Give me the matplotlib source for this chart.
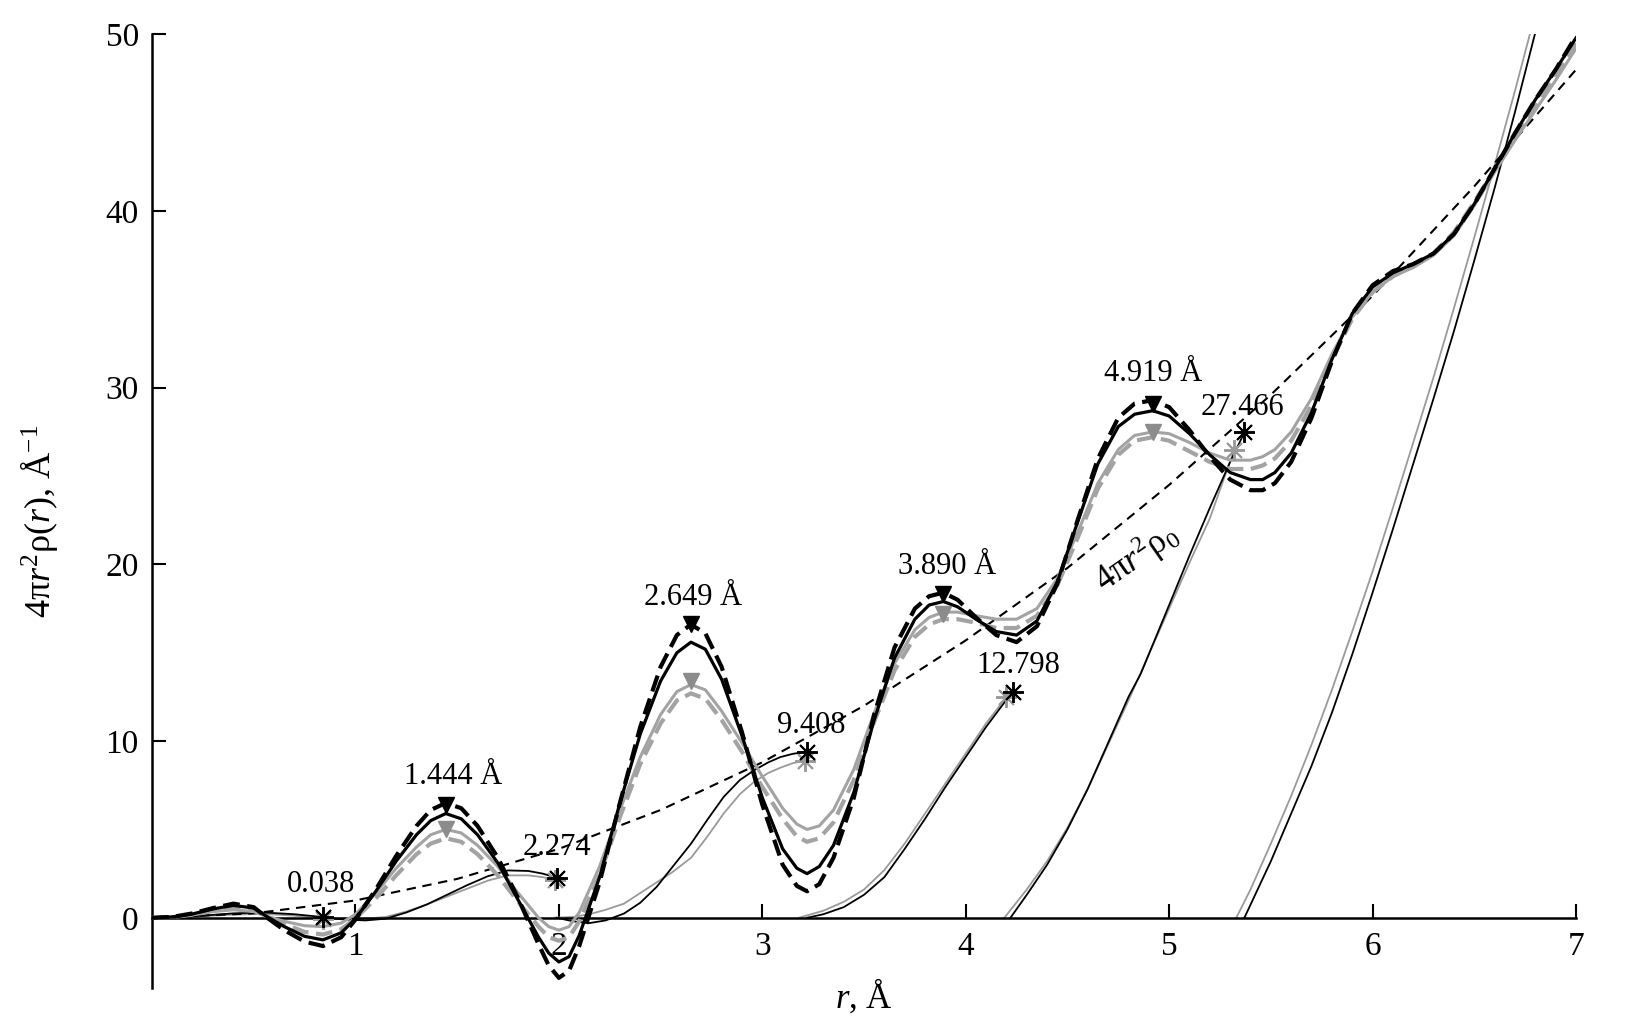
import matplotlib
matplotlib.use("Agg")
import matplotlib.pyplot as plt

plt.rcParams['font.family'] = ['Liberation Serif', 'DejaVu Serif']
plt.rcParams['mathtext.fontset'] = 'custom'
plt.rcParams['mathtext.rm'] = 'Liberation Serif'
plt.rcParams['mathtext.it'] = 'Liberation Serif:italic'

# radial grid for the RDF curves
r_grid = [0, 0.1, 0.2, 0.3, 0.4, 0.5, 0.56, 0.65, 0.75, 0.84, 0.93, 1.0, 1.1, 1.2, 1.3, 1.37,
          1.444, 1.52, 1.6, 1.7, 1.8, 1.9, 1.95, 2.0, 2.05, 2.1, 2.2, 2.3, 2.4, 2.5, 2.58,
          2.649, 2.72, 2.8, 2.9, 3.0, 3.1, 3.17, 3.22, 3.28, 3.35, 3.45, 3.55, 3.65, 3.75,
          3.82, 3.89, 3.96, 4.05, 4.15, 4.25, 4.35, 4.45, 4.55, 4.65, 4.75, 4.83, 4.919,
          5.0, 5.1, 5.2, 5.3, 5.4, 5.46, 5.52, 5.6, 5.7, 5.8, 5.9, 6.0, 6.1, 6.2, 6.3, 6.4,
          6.5, 6.6, 6.7, 6.8, 6.9, 7.0]

rdf_black_dashed = [0, 0.05, 0.25, 0.55, 0.8, 0.6, 0.05, -0.7, -1.35, -1.6, -1.1, -0.1, 1.6, 3.5,
                    5.2, 6.1, 6.5, 6.2, 5.2, 3.4, 1.1, -1.5, -2.7, -3.4, -3.0, -1.6, 2.0, 6.5,
                    10.8, 14.2, 16.0, 16.6, 16.1, 14.2, 10.5, 6.4, 3.0, 1.8, 1.5, 1.9, 3.4, 6.8,
                    11.5, 15.3, 17.5, 18.2, 18.4, 18.0, 17.0, 16.0, 15.6, 16.5, 18.9, 22.5,
                    26.0, 28.3, 29.1, 29.3, 28.9, 27.6, 26.1, 24.8, 24.2, 24.2, 24.6, 25.8,
                    28.3, 31.5, 34.2, 35.8, 36.6, 37.0, 37.6, 38.7, 40.4, 42.4, 44.4, 46.3,
                    48.0, 49.9]

rdf_black_solid = [0, 0.05, 0.22, 0.5, 0.7, 0.55, 0.1, -0.5, -1.05, -1.25, -0.85, -0.05, 1.5,
                   3.2, 4.7, 5.5, 5.9, 5.6, 4.7, 3.1, 1.0, -1.1, -2.0, -2.5, -2.2, -1.0, 2.3,
                   6.5, 10.4, 13.4, 15.0, 15.6, 15.2, 13.5, 10.3, 6.8, 3.9, 2.8, 2.5, 2.9, 4.1,
                   7.1, 11.2, 14.7, 16.9, 17.7, 17.9, 17.6, 16.9, 16.2, 16.0, 16.8, 19.0, 22.4,
                   25.7, 27.8, 28.5, 28.7, 28.4, 27.4, 26.2, 25.2, 24.8, 24.8, 25.2, 26.3,
                   28.6, 31.6, 34.2, 35.7, 36.5, 37.0, 37.6, 38.7, 40.4, 42.4, 44.4, 46.3,
                   48.0, 49.8]

rdf_gray_dashed = [0, 0.04, 0.18, 0.4, 0.55, 0.4, 0.1, -0.35, -0.8, -0.95, -0.65, -0.05, 1.1,
                   2.4, 3.6, 4.2, 4.5, 4.3, 3.6, 2.4, 0.9, -0.5, -1.1, -1.3, -1.1, -0.2, 2.4,
                   5.7, 8.7, 11.0, 12.3, 12.7, 12.4, 11.2, 9.4, 7.4, 5.6, 4.6, 4.3, 4.5, 5.4,
                   7.8, 11.1, 14.0, 15.9, 16.6, 16.9, 16.9, 16.7, 16.4, 16.4, 17.1, 18.8, 21.5,
                   24.3, 26.2, 27.0, 27.2, 27.0, 26.4, 25.8, 25.4, 25.4, 25.6, 26.0, 27.0,
                   29.0, 31.6, 33.9, 35.4, 36.3, 36.9, 37.6, 38.8, 40.5, 42.4, 44.3, 46.0,
                   47.7, 49.5]

rdf_gray_solid = [0, 0.04, 0.16, 0.35, 0.45, 0.35, 0.1, -0.2, -0.45, -0.5, -0.3, 0.2, 1.4,
                  2.8, 4.0, 4.7, 5.0, 4.8, 4.1, 2.9, 1.4, 0.0, -0.5, -0.7, -0.5, 0.3, 2.9,
                  6.1, 9.1, 11.5, 12.8, 13.2, 12.9, 11.7, 9.9, 8.0, 6.2, 5.3, 5.0, 5.2, 6.1,
                  8.4, 11.6, 14.4, 16.3, 17.0, 17.3, 17.3, 17.1, 16.9, 16.9, 17.5, 19.2, 21.8,
                  24.6, 26.5, 27.3, 27.5, 27.4, 26.9, 26.3, 25.9, 25.9, 26.1, 26.5, 27.5,
                  29.4, 31.9, 34.0, 35.4, 36.3, 36.8, 37.5, 38.6, 40.3, 42.2, 44.0, 45.7,
                  47.4, 49.2]

# average density curve 4*pi*r^2*rho0
r_avg = [0, 0.5, 1.0, 1.5, 2.0, 2.5, 3.0, 3.5, 4.0, 4.5, 5.0, 5.5, 6.0, 6.5, 7.0]
y_avg = [0, 0.25, 0.98, 2.2, 3.9, 6.1, 8.8, 12.0, 15.7, 19.8, 24.5, 29.6, 35.2, 41.4, 48.0]

# running coordination number segments (black and gray)
cn_black = [
    ([0, 0.2, 0.4, 0.55, 0.7, 0.84], [0, 0.08, 0.25, 0.3, 0.2, 0.04]),
    ([0.84, 0.95, 1.05, 1.15, 1.25, 1.35, 1.45, 1.55, 1.65, 1.75, 1.85, 1.92, 1.99],
     [0.0, -0.1, -0.15, -0.05, 0.3, 0.75, 1.3, 1.85, 2.35, 2.68, 2.65, 2.5, 2.27]),
    ([1.99, 2.07, 2.15, 2.23, 2.32, 2.4, 2.48, 2.56, 2.65, 2.73, 2.81, 2.89, 2.96, 3.03, 3.09, 3.15, 3.22],
     [0, -0.2, -0.3, -0.15, 0.24, 0.85, 1.74, 2.9, 4.2, 5.55, 6.84, 7.8, 8.35, 8.8, 9.1, 9.28, 9.4]),
    ([3.22, 3.3, 3.4, 3.5, 3.6, 3.7, 3.8, 3.9, 4.0, 4.1, 4.23],
     [0, 0.2, 0.6, 1.3, 2.3, 3.9, 5.6, 7.4, 9.1, 10.8, 12.8]),
    ([4.22, 4.3, 4.4, 4.5, 4.6, 4.7, 4.8, 4.86, 5.0, 5.1, 5.2, 5.3, 5.37],
     [0, 1.3, 3.0, 5.0, 7.3, 9.9, 12.5, 13.8, 17.7, 20.5, 23.2, 25.8, 27.47]),
    ([5.37, 5.5, 5.6, 5.7, 5.8, 5.9, 6.0, 6.1, 6.2, 6.3, 6.4, 6.5, 6.6, 6.7, 6.8],
     [0, 3.2, 5.9, 8.6, 11.6, 14.9, 18.4, 22.0, 25.7, 29.4, 33.2, 37.2, 41.3, 45.6, 50.1]),
]
cn_gray = [
    ([0, 0.2, 0.4, 0.55, 0.7, 0.84], [0, 0.06, 0.18, 0.22, 0.12, -0.05]),
    ([0.84, 0.95, 1.05, 1.15, 1.25, 1.35, 1.45, 1.55, 1.65, 1.75, 1.85, 1.92, 1.98],
     [0.0, -0.05, -0.05, 0.05, 0.35, 0.75, 1.2, 1.65, 2.1, 2.4, 2.4, 2.3, 2.15]),
    ([1.98, 2.07, 2.15, 2.23, 2.32, 2.4, 2.48, 2.56, 2.65, 2.73, 2.81, 2.89, 2.96, 3.03, 3.09, 3.15, 3.21],
     [0, 0.05, 0.2, 0.45, 0.8, 1.4, 2.0, 2.6, 3.4, 4.6, 5.9, 7.0, 7.7, 8.2, 8.5, 8.75, 8.9]),
    ([3.18, 3.3, 3.4, 3.5, 3.6, 3.7, 3.8, 3.9, 4.0, 4.1, 4.2],
     [0, 0.4, 0.9, 1.6, 2.7, 4.2, 5.9, 7.6, 9.3, 11.0, 12.5]),
    ([4.19, 4.3, 4.4, 4.5, 4.6, 4.7, 4.8, 4.9, 5.0, 5.1, 5.2, 5.32],
     [0, 1.6, 3.2, 5.1, 7.3, 9.8, 12.3, 14.9, 17.5, 20.1, 22.6, 26.5]),
    ([5.33, 5.4, 5.5, 5.6, 5.7, 5.8, 5.9, 6.0, 6.1, 6.2, 6.3, 6.4, 6.5, 6.6, 6.7, 6.78],
     [0, 1.6, 4.2, 6.9, 9.8, 12.9, 16.2, 19.6, 23.2, 26.9, 30.6, 34.5, 38.5, 42.6, 46.8, 50.3]),
]

peak_r = [1.444, 2.649, 3.890, 4.919]
peak_black = [6.4, 16.6, 18.3, 29.1]
peak_gray = [5.0, 13.4, 17.2, 27.5]
peak_labels = ["1.444 Å", "2.649 Å", "3.890 Å", "4.919 Å"]
peak_label_y = [8.0, 18.1, 19.9, 30.8]
peak_label_r = [1.48, 2.66, 3.91, 4.92]

cn_labels = ["0.038", "2.274", "9.408", "12.798", "27.466"]
cn_label_r = [0.83, 1.99, 3.24, 4.26, 5.36]
cn_label_y = [1.9, 4.0, 10.9, 14.3, 28.9]

GRAY = '#a3a3a3'

fig = plt.figure(figsize=(16.35, 10.32), dpi=100)
ax = fig.add_axes([0.093, 0.0422, 0.8709, 0.9245])

# coordination number curves
for (xs, ys) in cn_gray:
    ax.plot(xs, ys, color='#9a9a9a', lw=1.3, zorder=2)
for (xs, ys) in cn_black:
    ax.plot(xs, ys, color='black', lw=1.3, zorder=2)
for (xs, ys) in cn_gray[:-1]:
    ax.plot(xs[-1], ys[-1], marker=(8, 2, 0), ms=15, mew=1.4, color='#9a9a9a', zorder=5)
for (xs, ys) in cn_black[:-1]:
    ax.plot(xs[-1], ys[-1], marker=(8, 2, 0), ms=15, mew=1.4, color='black', zorder=6)

ax.plot(r_avg, y_avg, color='black', lw=1.5, dashes=(4.5, 3.2), zorder=3)

# RDF curves
ax.plot(r_grid, rdf_gray_dashed, color=GRAY, lw=3.0, dashes=(4, 1.8), zorder=3)
ax.plot(r_grid, rdf_gray_solid, color=GRAY, lw=2.2, zorder=3)
ax.plot(r_grid, rdf_black_solid, color='black', lw=2.3, zorder=4)
ax.plot(r_grid, rdf_black_dashed, color='black', lw=3.0, dashes=(4, 1.8), zorder=4)

ax.plot(peak_r, peak_gray, 'v', color='#8c8c8c', ms=12, zorder=5)
ax.plot(peak_r, peak_black, 'v', color='black', ms=12, zorder=6)

for lab, xr, yv in zip(peak_labels, peak_label_r, peak_label_y):
    ax.text(xr, yv, lab, fontsize=22, ha='center', va='center')
for lab, xr, yv in zip(cn_labels, cn_label_r, cn_label_y):
    ax.text(xr, yv, lab, fontsize=22, ha='center', va='center')

ax.text(4.84, 20.4, '4π$r^2$ρ$_0$', fontsize=25, rotation=35,
        ha='center', va='center', rotation_mode='anchor')

ax.set_xlim(0, 7)
ax.set_ylim(-4.0, 50)
ax.spines['top'].set_visible(False)
ax.spines['right'].set_visible(False)
ax.spines['bottom'].set_position(('data', 0))
ax.spines['left'].set_position(('data', 0))
ax.spines['bottom'].set_linewidth(1.8)
ax.spines['left'].set_linewidth(1.8)

ax.set_xticks([1, 2, 3, 4, 5, 6, 7])
ax.set_yticks([0, 10, 20, 30, 40, 50])
ax.tick_params(axis='x', direction='in', length=10, width=1.5, labelsize=24, pad=10)
ax.tick_params(axis='y', direction='in', length=10, width=1.5, labelsize=24, pad=9.5)

ax.set_xlabel('$r$, Å', fontsize=25)
ax.xaxis.set_label_coords(0.5, 0.012)
ax.set_ylabel('4π$r^2$ρ($r$), Å$^{-1}$', fontsize=26)
ax.yaxis.set_label_coords(-0.065, 0.49)

fig.savefig('out.png', dpi=100)
